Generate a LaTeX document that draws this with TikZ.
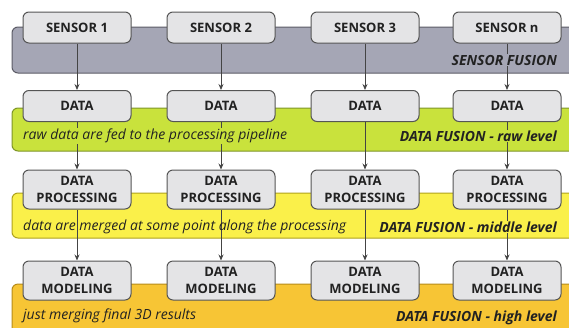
\documentclass[tikz,border=0pt]{standalone}
\usepackage{fontspec}
\setmainfont{Open Sans}
\usetikzlibrary{arrows.meta}
\definecolor{boxfill}{HTML}{E4E4E6}
\definecolor{boxline}{HTML}{555555}
\definecolor{grayband}{HTML}{A5A6B5}
\definecolor{graybandline}{HTML}{5C5C66}
\definecolor{greenband}{HTML}{C9E23C}
\definecolor{greenbandline}{HTML}{7E9527}
\definecolor{yellowband}{HTML}{FAF04A}
\definecolor{yellowbandline}{HTML}{AFA21C}
\definecolor{orangeband}{HTML}{F7C535}
\definecolor{orangebandline}{HTML}{B68B1A}
\definecolor{arrowcol}{HTML}{444444}
\definecolor{textcol}{HTML}{222222}
\tikzset{
  stagebox/.style={draw=boxline, fill=boxfill, line width=1pt, rounded corners=6pt,
    minimum width=108pt, inner sep=0pt, align=center, font=\fontsize{13}{17}\selectfont\bfseries, text=textcol},
  onebox/.style={stagebox, minimum height=31pt},
  twobox/.style={stagebox, minimum height=39pt},
  band/.style={line width=1pt, rounded corners=6pt},
  flow/.style={draw=arrowcol, line width=0.8pt, -{Stealth[length=6pt,width=5pt]}},
  levellabel/.style={font=\fontsize{14}{16}\selectfont\bfseries\itshape, text=textcol, anchor=east, inner sep=1pt},
  notelabel/.style={font=\fontsize{14}{16}\selectfont\itshape, text=textcol, anchor=west, inner sep=1pt}
}
\begin{document}
\begin{tikzpicture}[x=1pt,y=-1pt]
\useasboundingbox (0,0) rectangle (569,327);
\clip (0,0) rectangle (569,327);
% bands
\path[band, draw=graybandline, fill=grayband] (12,27) rectangle (600,73);
\path[band, draw=greenbandline, fill=greenband] (12,108) rectangle (600,151);
\path[band, draw=yellowbandline, fill=yellowband] (12,193) rectangle (600,238);
\path[band, draw=orangebandline, fill=orangeband] (12,284) rectangle (600,360);
% boxes
\foreach \c/\x/\t in {1/77/SENSOR 1, 2/221/SENSOR 2, 3/365/SENSOR 3, 4/507/SENSOR n}{
  \node[onebox] (s\c) at (\x,27.5) {\t};
  \node[onebox] (d\c) at (\x,106) {DATA};
  \node[twobox] (p\c) at (\x,189.5) {DATA\\PROCESSING};
  \node[twobox] (m\c) at (\x,280.5) {DATA\\MODELING};
}
% connectors
\foreach \c in {1,2,3,4}{
  \draw[flow] (s\c) -- (d\c);
  \draw[flow] (d\c) -- (p\c);
  \draw[flow] (p\c) -- (m\c);
}
% labels
\node[levellabel, fill=grayband] (lsf) at (558,60) {SENSOR FUSION};
\node[notelabel, fill=greenband] (nraw) at (22,136) {raw data are fed to the processing pipeline};
\node[levellabel, fill=greenband] (lraw) at (558,136) {DATA FUSION - raw level};
\node[notelabel] (nmid) at (22,227) {data are merged at some point along the processing};
\node[levellabel, fill=yellowband] (lmid) at (558,227) {DATA FUSION - middle level};
\node[notelabel] (nhigh) at (22,316) {just merging final 3D results};
\node[levellabel, fill=orangeband] (lhigh) at (558,318) {DATA FUSION - high level};
\end{tikzpicture}
\end{document}
